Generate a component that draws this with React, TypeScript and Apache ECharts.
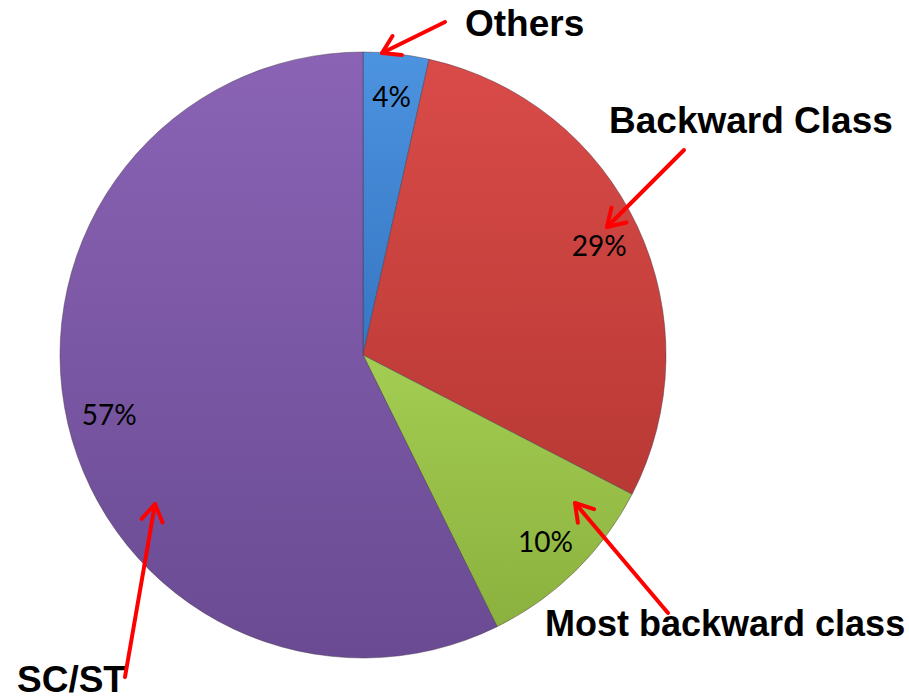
import React, { useEffect, useRef } from "react";
import * as echarts from "echarts";

const categories = ["Others", "Backward Class", "Most backward class", "SC/ST"];
const shares = [3.5, 29.1, 10.1, 57.3];
const topColors = ["#4C93E0", "#D94B48", "#A3CD52", "#8A63B5"];
const bottomColors = ["#3676C2", "#B93935", "#8BB13E", "#6A4B93"];

// annotation callouts: label text position and arrow tail/head
const calloutText = ["Others", "Backward Class", "Most backward class", "SC/ST"];
const calloutPos = [
  [465, 23],
  [609, 120],
  [545, 623],
  [17, 679],
];
const calloutSize = [37, 37, 36, 37];
const arrowTail = [
  [445, 22],
  [684, 150],
  [668, 613],
  [125, 677],
];
const arrowHead = [
  [382, 53],
  [607, 227],
  [575, 503],
  [155, 504],
];

const CX = 363;
const CY = 355;
const R = 303;

function arrowGraphics(i: number) {
  const [tx, ty] = arrowTail[i];
  const [hx, hy] = arrowHead[i];
  const dx = hx - tx;
  const dy = hy - ty;
  const len = Math.sqrt(dx * dx + dy * dy);
  const ux = -dx / len;
  const uy = -dy / len;
  const L = 20;
  const a = (32 * Math.PI) / 180;
  const p1 = [hx + L * (ux * Math.cos(a) - uy * Math.sin(a)), hy + L * (ux * Math.sin(a) + uy * Math.cos(a))];
  const p2 = [hx + L * (ux * Math.cos(-a) - uy * Math.sin(-a)), hy + L * (ux * Math.sin(-a) + uy * Math.cos(-a))];
  return [
    {
      type: "line",
      shape: { x1: tx, y1: ty, x2: hx, y2: hy },
      style: { stroke: "#FF0000", lineWidth: 4, lineCap: "round" },
      z: 100,
    },
    {
      type: "polyline",
      shape: { points: [p1, [hx, hy], p2] },
      style: { stroke: "#FF0000", lineWidth: 4, fill: null, lineCap: "round", lineJoin: "round" },
      z: 100,
    },
  ];
}

export default function App() {
  const ref = useRef<HTMLDivElement>(null);
  useEffect(() => {
    if (!ref.current) return;
    const chart = echarts.init(ref.current, undefined, { renderer: "svg" });
    const data = categories.map((name, i) => ({
      name,
      value: shares[i],
      itemStyle: {
        color: new echarts.graphic.LinearGradient(0, 0, 0, 1, [
          { offset: 0, color: topColors[i] },
          { offset: 1, color: bottomColors[i] },
        ]),
      },
    }));
    const labelData = categories.map((name, i) => ({ name, value: shares[i] }));
    const graphics: any[] = [];
    calloutText.forEach((t, i) => {
      graphics.push({
        type: "text",
        x: calloutPos[i][0],
        y: calloutPos[i][1],
        z: 100,
        style: {
          text: t,
          fill: "#000",
          fontSize: calloutSize[i],
          fontWeight: "bold",
          fontFamily: "Liberation Sans, Arial, sans-serif",
          textAlign: "left",
          textVerticalAlign: "middle",
        },
      });
      graphics.push(...arrowGraphics(i));
    });
    chart.setOption({
      animation: false,
      backgroundColor: "#ffffff",
      series: [
        {
          type: "pie",
          center: [CX, CY],
          radius: [0, R],
          startAngle: 90,
          clockwise: true,
          silent: true,
          data,
          label: { show: false },
          labelLine: { show: false },
          itemStyle: {
            borderColor: "rgba(70,50,70,0.45)",
            borderWidth: 1,
          },
        },
        {
          type: "pie",
          center: [CX, CY],
          radius: [R * 0.7, R],
          startAngle: 90,
          clockwise: true,
          silent: true,
          data: labelData,
          itemStyle: { color: "rgba(0,0,0,0)", borderWidth: 0 },
          labelLine: { show: false },
          label: {
            show: true,
            position: "inside",
            formatter: (p: any) => Math.round(p.percent) + "%",
            color: "#000",
            fontSize: 28,
            fontFamily: "Lato, sans-serif",
          },
        },
      ],
      graphic: graphics,
    });
    return () => chart.dispose();
  }, []);
  return (
    <div
      ref={ref}
      style={{ position: "fixed", left: 0, top: 0, width: 909, height: 698 }}
    />
  );
}
